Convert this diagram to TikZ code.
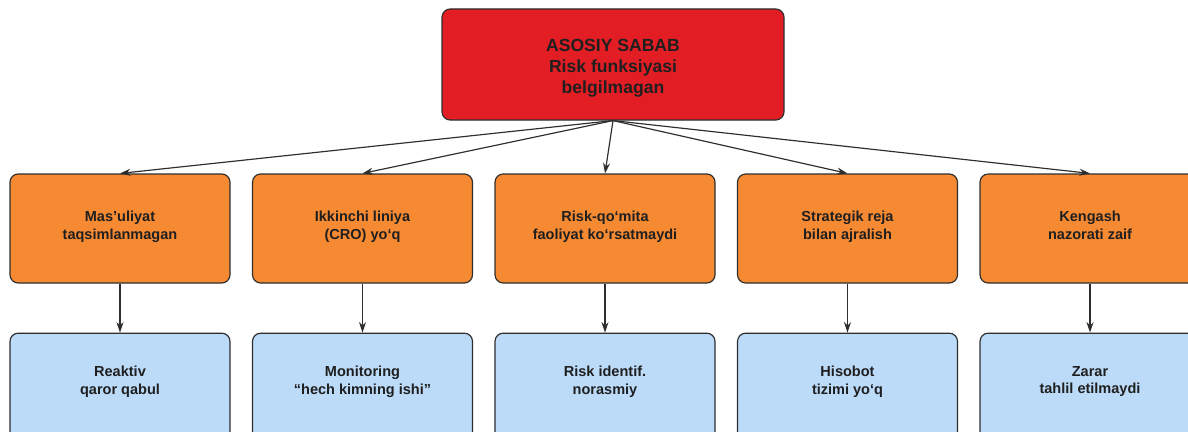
\documentclass[tikz,border=0pt]{standalone}
\usepackage{fontspec}
\setmainfont{Liberation Sans}
\usetikzlibrary{positioning,arrows.meta}
\definecolor{rootred}{HTML}{E31D24}
\definecolor{causeorange}{HTML}{F68A33}
\definecolor{effectblue}{HTML}{BCDBF9}
\definecolor{edgegray}{HTML}{2E2E2E}
\begin{document}
\begin{tikzpicture}[
  box/.style={draw=edgegray,line width=1pt,rounded corners=7pt,minimum width=6.6cm,minimum height=3.27cm,align=center,text=black!88,font=\bfseries\fontsize{12.4}{14.8}\selectfont},
  root/.style={box,fill=rootred,minimum width=10.26cm,minimum height=3.33cm,text height=1.83cm,font=\bfseries\fontsize{15}{17.6}\selectfont},
  cause/.style={box,fill=causeorange,text depth=0.2cm},
  effect/.style={box,fill=effectblue,text depth=0.45cm},
  link/.style={draw=edgegray,line width=1pt,-{Stealth[length=9pt,width=6pt]}},
  node distance=1.47cm and 0.64cm]
\useasboundingbox (0,0) rectangle (35.64,-12.96);
\node[root] (root) at (18.39,-1.935) {ASOSIY SABAB\\Risk funksiyasi\\belgilmagan};
\node[cause] (c1) at (3.6,-6.855) {Mas’uliyat\\taqsimlanmagan};
\node[cause,right=of c1] (c2) {Ikkinchi liniya\\(CRO) yo‘q};
\node[cause,right=of c2] (c3) {Risk-qo‘mita\\faoliyat ko‘rsatmaydi};
\node[cause,right=of c3] (c4) {Strategik reja\\bilan ajralish};
\node[cause,right=of c4] (c5) {Kengash\\nazorati zaif};
\node[effect,below=of c1] (e1) {Reaktiv\\qaror qabul};
\node[effect,below=of c2] (e2) {Monitoring\\“hech kimning ishi”};
\node[effect,below=of c3] (e3) {Risk identif.\\norasmiy};
\node[effect,below=of c4] (e4) {Hisobot\\tizimi yo‘q};
\node[effect,below=of c5] (e5) {Zarar\\tahlil etilmaydi};
\foreach \i in {1,...,5} {
  \draw[link] (root.south) -- (c\i.north);
  \draw[link] (c\i) -- (e\i);
}
\end{tikzpicture}
\end{document}
